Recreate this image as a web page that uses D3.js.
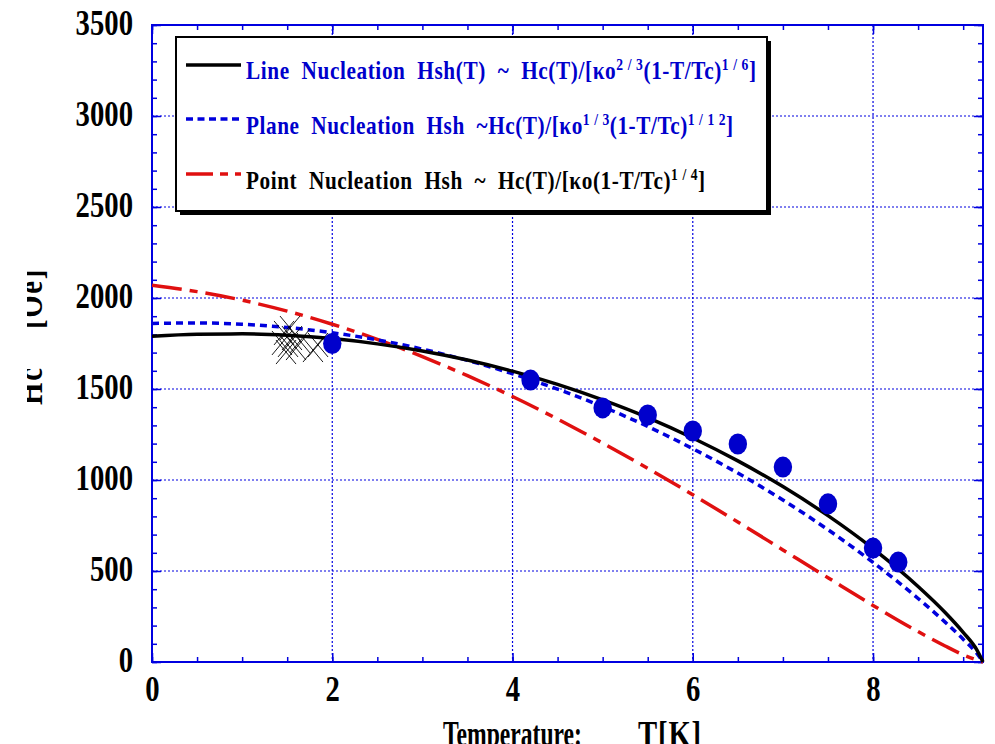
<!DOCTYPE html>
<html><head><meta charset="utf-8">
<script src="https://cdn.jsdelivr.net/npm/d3@7"></script>
<style>body{margin:0;background:#fff}svg{display:block}text{white-space:pre}</style>
</head><body>
<svg id="chart" width="995" height="744"></svg>
<script>
// ---- data ----
const temps = [0,0.5,1,1.5,2,2.5,3,3.5,4,4.5,5,5.5,6,6.5,7,7.5,8,8.5,8.8,9,9.15,9.22];
const lineNucleation  = [1790,1801,1803,1795,1777,1748,1709,1659,1598,1525,1440,1343,1231,1105,964,804,623,415,272,163,68,0];
const planeNucleation = [1860,1863,1856,1838,1809,1770,1719,1657,1584,1499,1403,1294,1172,1038,890,727,547,349,219,125,48,0];
const pointNucleation = [2070,2035,1988,1928,1856,1773,1678,1573,1459,1335,1203,1064,919,769,616,463,311,167,88,40,11,0];
const measT = [2,4.2,5,5.5,6,6.5,7,7.5,8,8.28];
const measH = [1750,1549,1396,1357,1269,1198,1071,869,626,549];
const crossT = [1.465,1.509,1.553,1.487,1.598,1.642,1.442,1.786,1.842,1.531];
const crossH = [1808,1742,1780,1703,1725,1764,1753,1714,1742,1835];
const xTicks = [0,2,4,6,8];
const xMinor = d3.range(0, 9.2, 0.5);
const yTicks = [0,500,1000,1500,2000,2500,3000,3500];
const yMinor = d3.range(0, 3501, 100);
const xGrid = [2,4,6,8];
const yGrid = [500,1000,1500,2000,2500,3000];
const legendRows = [
  {parts:[["Line  Nucleation  Hsh(T)  ~  Hc(T)/[",0],["κ",0],["o",0],["2 / 3",1],["(1-T/Tc)",0],["1 / 6",1],["]",0]], color:"#0000cc"},
  {parts:[["Plane  Nucleation  Hsh  ~Hc(T)/[",0],["κ",0],["o",0],["1 / 3",1],["(1-T/Tc)",0],["1 / 1 2",1],["]",0]], color:"#0000cc"},
  {parts:[["Point  Nucleation  Hsh  ~  Hc(T)/[",0],["κ",0],["o(1-T/Tc)",0],["1 / 4",1],["]",0]], color:"#000000"}
];

// ---- layout ----
const L = 152, R = 983, T0 = 25, B = 662;
const BLUE = "#0000e0";
const FONT = "'Liberation Serif','Times New Roman',Times,serif";
const svg = d3.select("#chart");
const x = d3.scaleLinear().domain([0, 9.22]).range([L, R]);
const y = d3.scaleLinear().domain([0, 3500]).range([B, T0]);

// grid
const grid = svg.append("g").attr("stroke", BLUE).attr("stroke-width", 1.2).attr("stroke-dasharray", "2,2");
grid.selectAll(".gx").data(xGrid).join("line").attr("x1", d=>x(d)).attr("x2", d=>x(d)).attr("y1", T0).attr("y2", B);
grid.selectAll(".gy").data(yGrid).join("line").attr("y1", d=>y(d)).attr("y2", d=>y(d)).attr("x1", L).attr("x2", R);

// axes ticks
function styleAxis(g){ g.select(".domain").remove(); g.selectAll(".tick line").attr("stroke", BLUE).attr("stroke-width",1.5); }
svg.append("g").attr("transform",`translate(0,${B})`).call(d3.axisBottom(x).tickValues(xMinor).tickSize(-5).tickFormat("")).call(styleAxis);
svg.append("g").attr("transform",`translate(0,${T0})`).call(d3.axisTop(x).tickValues(xMinor).tickSize(-5).tickFormat("")).call(styleAxis);
svg.append("g").attr("transform",`translate(${L},0)`).call(d3.axisLeft(y).tickValues(yMinor).tickSize(-5).tickFormat("")).call(styleAxis);
svg.append("g").attr("transform",`translate(${R},0)`).call(d3.axisRight(y).tickValues(yMinor).tickSize(-5).tickFormat("")).call(styleAxis);
svg.append("g").attr("transform",`translate(0,${T0})`).call(d3.axisTop(x).tickValues(xTicks).tickSize(-9).tickFormat("")).call(styleAxis);
svg.append("g").attr("transform",`translate(${R},0)`).call(d3.axisRight(y).tickValues(yTicks).tickSize(-9).tickFormat("")).call(styleAxis);

const xAx = svg.append("g").attr("transform",`translate(0,${B})`)
  .call(d3.axisBottom(x).tickValues(xTicks).tickSize(-9).tickFormat(d3.format("d"))).call(styleAxis);
xAx.selectAll("text").attr("y",0).attr("dy",0).attr("transform","translate(0,39) scale(0.82,1)")
  .attr("font-family",FONT).attr("font-weight","bold").attr("font-size",35).attr("fill","#000");
const yAx = svg.append("g").attr("transform",`translate(${L},0)`)
  .call(d3.axisLeft(y).tickValues(yTicks).tickSize(-9).tickFormat(d3.format("d"))).call(styleAxis);
yAx.selectAll("text").attr("x",0).attr("dy",0).attr("transform","translate(-19,9) scale(0.82,1)")
  .attr("font-family",FONT).attr("font-weight","bold").attr("font-size",35).attr("fill","#000");

// frame
svg.append("rect").attr("x",L).attr("y",T0).attr("width",R-L).attr("height",B-T0)
  .attr("fill","none").attr("stroke",BLUE).attr("stroke-width",2);

// curves
const line = d3.line().x(d=>x(d[0])).y(d=>y(d[1])).curve(d3.curveMonotoneX);
const plot = svg.append("g");
plot.append("path").datum(temps.map((t,i)=>[t,pointNucleation[i]])).attr("d",line)
  .attr("fill","none").attr("stroke","#e01010").attr("stroke-width",3.5).attr("stroke-dasharray","30,8,8,8");
plot.append("path").datum(temps.map((t,i)=>[t,planeNucleation[i]])).attr("d",line)
  .attr("fill","none").attr("stroke","#0000dd").attr("stroke-width",3.5).attr("stroke-dasharray","7,5");
plot.append("path").datum(temps.map((t,i)=>[t,lineNucleation[i]])).attr("d",line)
  .attr("fill","none").attr("stroke","#000").attr("stroke-width",3.5);

// cross markers
const cg = plot.append("g").attr("stroke","#000").attr("stroke-width",0.9);
crossT.forEach((t,i)=>{
  const cx = x(t), cy = y(crossH[i]);
  cg.append("line").attr("x1",cx-10).attr("y1",cy-12).attr("x2",cx+10).attr("y2",cy+12);
  cg.append("line").attr("x1",cx-10).attr("y1",cy+12).attr("x2",cx+10).attr("y2",cy-12);
});

// measured points
plot.selectAll(".pt").data(measT.map((t,i)=>[t,measH[i]])).join("ellipse")
  .attr("cx",d=>x(d[0])).attr("cy",d=>y(d[1])).attr("rx",9.2).attr("ry",10.5).attr("fill","#0000cc");

// legend
const lg = svg.append("g");
lg.append("rect").attr("x",180).attr("y",41).attr("width",591).attr("height",174).attr("fill","#000");
lg.append("rect").attr("x",176).attr("y",37).attr("width",591).attr("height",174).attr("fill","#fff").attr("stroke","#000").attr("stroke-width",2);
const sampleY = [65,119,174], baseY = [79,134,189], targetW = [511,488,460];
lg.append("line").attr("x1",186).attr("x2",241).attr("y1",sampleY[0]).attr("y2",sampleY[0]).attr("stroke","#000").attr("stroke-width",3.5);
lg.append("line").attr("x1",186).attr("x2",241).attr("y1",sampleY[1]).attr("y2",sampleY[1]).attr("stroke","#0000dd").attr("stroke-width",3.5).attr("stroke-dasharray","7,4.5");
lg.append("line").attr("x1",186).attr("x2",241).attr("y1",sampleY[2]).attr("y2",sampleY[2]).attr("stroke","#e01010").attr("stroke-width",3.5).attr("stroke-dasharray","27,7,8,7");

function fitText(sel, target, baseScale, tx, ty){
  const w0 = sel.node().getComputedTextLength();
  const n = sel.text().length;
  let sc = baseScale, ls = (target/baseScale - w0)/n;
  if (ls < 0) { ls = 0; sc = target / w0; }
  sel.attr("letter-spacing", ls);
  sel.attr("transform", `translate(${tx},${ty}) scale(${sc},1)`);
}
legendRows.forEach((row,i)=>{
  const t = lg.append("text").attr("font-family",FONT).attr("font-weight","bold").attr("font-size",25).attr("fill",row.color);
  let prevSup = false;
  row.parts.forEach(([s,sup])=>{
    const ts = t.append("tspan").text(s);
    if (sup) { ts.attr("font-size",16).attr("dy",-9); }
    else if (prevSup) { ts.attr("dy",9); }
    prevSup = !!sup;
  });
  fitText(t, targetW[i], 0.85, 246, baseY[i]);
});

// axis titles
const xt1 = svg.append("text").attr("font-family",FONT).attr("font-weight","bold").attr("font-size",35).text("Temperature:");
fitText(xt1, 139, 0.82, 443, 746);
const xt2 = svg.append("text").attr("font-family",FONT).attr("font-weight","bold").attr("font-size",35).text("T[K]");
fitText(xt2, 64, 0.82, 638, 746);

svg.append("clipPath").attr("id","ylabClip").append("rect").attr("x",27).attr("y",0).attr("width",100).attr("height",744);
const yl = svg.append("g").attr("clip-path","url(#ylabClip)");
const yg1 = yl.append("g").attr("transform","translate(42,405) rotate(-90)");
const yt1 = yg1.append("text").attr("font-family",FONT).attr("font-weight","bold").attr("font-size",35).text("Hc");
fitText(yt1, 39, 0.82, 0, 0);
const yg2 = yl.append("g").attr("transform","translate(42,268) rotate(-90)");
const yt2 = yg2.append("text").attr("font-family",FONT).attr("font-weight","bold").attr("font-size",35).attr("text-anchor","end").text("[Oe]");
fitText(yt2, 61, 0.82, 0, 0);
</script>
</body></html>
